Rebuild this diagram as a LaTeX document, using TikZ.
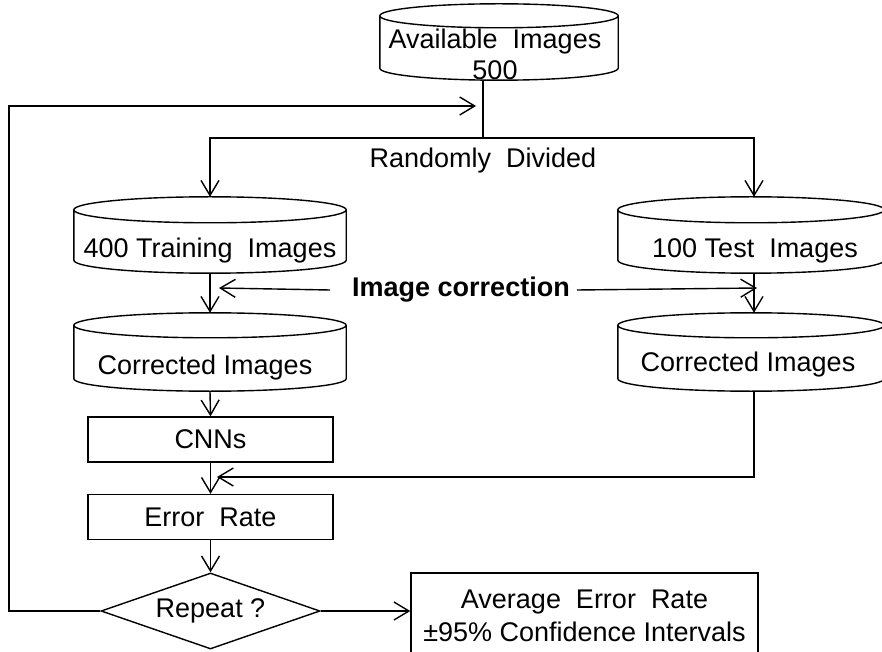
\documentclass[tikz,border=0pt]{standalone}
\usepackage{fontspec}
\setmainfont{Liberation Sans}
\usetikzlibrary{shapes.geometric,arrows.meta,calc}

% Outline of a vertical database cylinder around a rectangular node:
% #1 = node name, #2 = vertical radius of the end ellipses (pt)
\newcommand\drawcyl[2]{%
  \draw[conn] let \p1=(#1.north west), \p2=(#1.south east), \n1={(\x2-\x1)/2} in
    ($(#1.north)+(0,-#2)$) ellipse [x radius=\n1, y radius=#2pt]
    ($(#1.north west)+(0,-#2)$) -- ($(#1.south west)+(0,#2)$)
    arc [start angle=180, end angle=360, x radius=\n1, y radius=#2pt]
    -- ($(#1.north east)+(0,-#2)$);}

\begin{document}
\begin{tikzpicture}[x=1pt,y=1pt,
  every node/.style={font=\fontsize{27}{31}\selectfont},
  conn/.style={line width=1.4pt},
  arr/.style={conn, -{Straight Barb[length=15pt,width=18pt,line width=1.4pt]}},
  cylbox/.style 2 args={rectangle, inner sep=0pt, minimum width=#1, minimum height=#2},
  proc/.style={draw, conn, rectangle, inner sep=0pt, minimum width=245pt, minimum height=45pt},
  txt/.style={inner sep=2pt, align=center},
]
\useasboundingbox (0,0) rectangle (882,651);

% databases
\node[cylbox={238pt}{76pt}] (avail) at (499,609) {};
\node[txt] (availtxt) at (495,597) {Available\ \ Images\\500};
\node[cylbox={272pt}{76pt}] (train) at (210,416) {};
\node[txt] (traintxt) at (210,400) {400 Training\ \ Images};
\node[cylbox={266pt}{76pt}] (test) at (751,416) {};
\node[txt] (testtxt) at (755,400) {100 Test\ \ Images};
\node[cylbox={272pt}{78pt}] (corrL) at (210,299) {};
\node[txt] (corrLtxt) at (205,283) {Corrected Images};
\node[cylbox={266pt}{78pt}] (corrR) at (751,299) {};
\node[txt] (corrRtxt) at (748,286) {Corrected Images};
\drawcyl{avail}{12}
\drawcyl{train}{13}
\drawcyl{test}{13}
\drawcyl{corrL}{12.5}
\drawcyl{corrR}{12.5}

% free labels
\node[txt] (divtxt) at (483,490) {Randomly\ \ Divided};
\node[txt, font=\fontsize{27}{31}\selectfont\bfseries] (corrtxt) at (461,361) {Image correction};

% process steps
\node[proc] (cnn) at (210.5,211.5) {CNNs};
\node[proc] (err) at (210.5,134) {Error\ \ Rate};
\node[draw, conn, diamond, aspect=2.88, inner sep=0pt, minimum width=219pt, minimum height=76pt] (rep) at (210.5,40) {Repeat ?};
\node[draw, conn, rectangle, inner sep=0pt, minimum width=347pt, minimum height=86pt, align=center]
  (avg) at (584.5,35) {Average\ \ Error\ \ Rate\\[2pt]±95\% Confidence Intervals};

% connectors
\coordinate (split) at (483,513);
\coordinate (tipL) at (219,363);
\coordinate (tipR) at (757,363);
\coordinate (tipM) at (217,174);
\coordinate (loop) at (9,545);
\coordinate (tipF) at (476,545);

\draw[conn] (avail.south -| split) -- (split);
\draw[arr] (split) -| (train.north);
\draw[arr] (split) -| ([xshift=3pt]test.north);
\draw[arr] (train.south) -- (corrL.north);
\draw[arr] ([xshift=3pt]test.south) -- ([xshift=3pt]corrR.north);
\draw[arr] ([xshift=-20pt]corrtxt.west) -- (tipL);
\draw[arr] ([xshift=5pt]corrtxt.east) -- (tipR);
\draw[arr] (corrL.south) -- (cnn.north);
\draw[arr] ([xshift=3pt]corrR.south) |- (tipM);
\draw[arr] (cnn.south) -- (err.north);
\draw[arr] (err.south) -- (rep.north);
\draw[arr] (rep.east) -- (rep.east -| avg.west);
\draw[arr] (rep.west) -| (loop) -- (tipF);
\end{tikzpicture}
\end{document}
